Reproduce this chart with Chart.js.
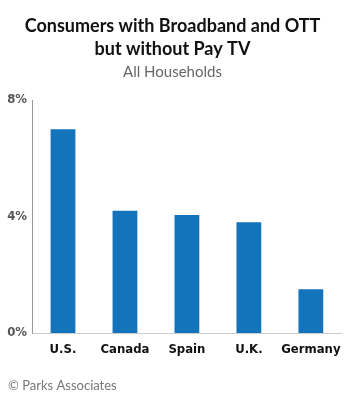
<!DOCTYPE html>
<html>
<head>
<meta charset="utf-8">
<script src="https://cdn.jsdelivr.net/npm/chart.js@4/dist/chart.umd.min.js"></script>
<style>
  html, body { margin: 0; padding: 0; background: #fff; }
  #wrap { width: 350px; height: 401px; position: relative; }
</style>
</head>
<body>
<div id="wrap"><canvas id="broadbandChart"></canvas></div>
<script>
var countries = ['U.S.', 'Canada', 'Spain', 'U.K.', 'Germany'];
var shareValues = [7.0, 4.2, 4.05, 3.8, 1.5];
var tickValues = [0, 4, 8];

var footerNote = {
    id: 'footerNote',
    afterDraw: function(chart) {
        var c = chart.ctx;
        c.save();
        c.font = '13px "Lato", sans-serif';
        c.fillStyle = '#777';
        c.textBaseline = 'middle';
        c.textAlign = 'left';
        c.fillText('\u00A9 Parks Associates', 8, 386);
        c.restore();
    }
};

var ctx = document.getElementById('broadbandChart').getContext('2d');
var chart = new Chart(ctx, {
    type: 'bar',
    data: {
        labels: countries,
        datasets: [{
            label: 'All Households',
            data: shareValues,
            backgroundColor: '#1474bb',
            barPercentage: 0.4,
            categoryPercentage: 1.0
        }]
    },
    options: {
        responsive: true,
        maintainAspectRatio: false,
        animation: false,
        layout: { padding: { left: 0, right: 5, top: 0, bottom: 30 } },
        plugins: {
            legend: { display: false },
            tooltip: { enabled: false },
            title: {
                display: true,
                text: ['Consumers with Broadband and OTT', 'but without Pay TV'],
                color: '#111',
                font: { family: 'Lato', size: 18, weight: 'bold', lineHeight: 1.25 },
                padding: { top: 15, bottom: 3 }
            },
            subtitle: {
                display: true,
                text: 'All Households',
                color: '#666',
                font: { family: 'Lato', size: 15, lineHeight: 1.2 },
                padding: { top: 0, bottom: 19 }
            }
        },
        scales: {
            x: {
                grid: { display: false, drawTicks: false },
                border: { color: '#cccccc', width: 1 },
                ticks: {
                    color: '#111',
                    padding: 9,
                    maxRotation: 0,
                    minRotation: 0,
                    autoSkip: false,
                    font: { family: 'DejaVu Sans Condensed', size: 13, weight: 'bold' }
                },
                afterFit: function(scale) { scale.height = 38; }
            },
            y: {
                min: 0,
                max: 8,
                grid: { display: false, drawTicks: false },
                border: { color: '#999', width: 1, dash: [1, 1] },
                afterBuildTicks: function(scale) {
                    scale.ticks = tickValues.map(function(v) { return { value: v }; });
                },
                ticks: {
                    color: '#555',
                    padding: 5,
                    font: { family: 'DejaVu Sans Condensed', size: 13, weight: 'bold' },
                    callback: function(v) { return v + '%'; }
                },
                afterFit: function(scale) { scale.width = 32; }
            }
        }
    },
    plugins: [footerNote]
});
</script>
</body>
</html>
